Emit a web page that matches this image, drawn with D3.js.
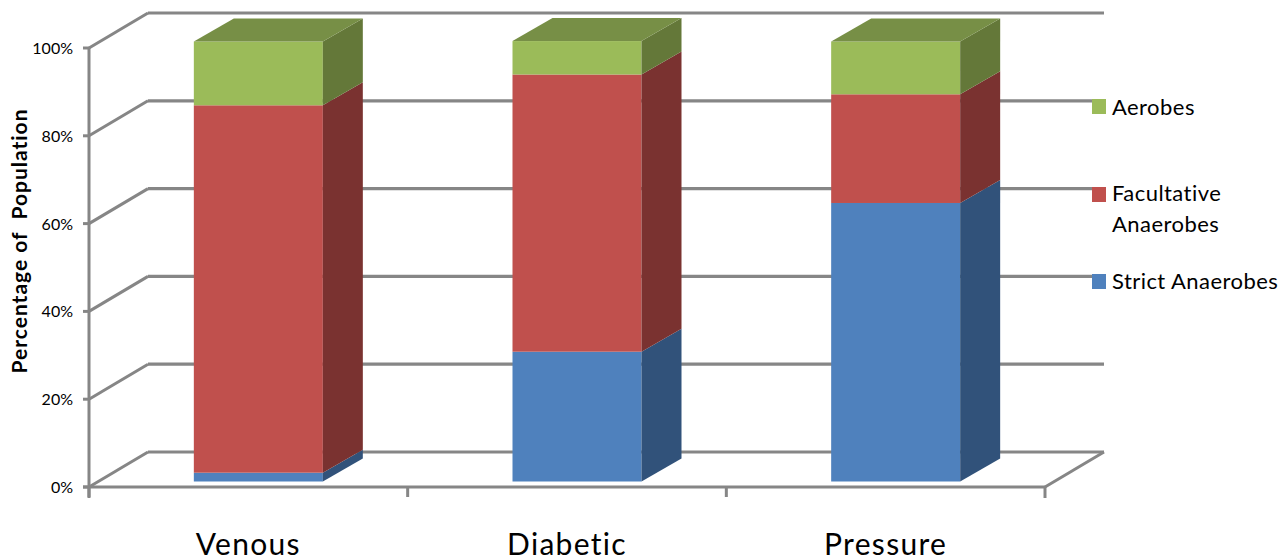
<!DOCTYPE html>
<html><head><meta charset="utf-8">
<style>html,body{margin:0;padding:0;background:#fff;overflow:hidden}svg{display:block}text{font-family:Lato,"Open Sans",sans-serif;fill:#000;white-space:pre}</style>
<script src="https://d3js.org/d3.v7.min.js"></script></head>
<body><svg id="c" width="1281" height="559"></svg>
<script>
const categories = ["Venous","Diabetic","Pressure"];
const strictAnaerobes = [2, 29.5, 63.3];
const facultativeAnaerobes = [83.5, 63, 24.7];
const aerobes = [14.5, 7.6, 12];
const yTicks = [0,20,40,60,80,100];
const seriesNames = ["Strict Anaerobes","Facultative Anaerobes","Aerobes"];
const seriesValues = [strictAnaerobes, facultativeAnaerobes, aerobes];
const front = ["#4F81BD","#C0504D","#9BBB59"];
const side = ["#31527A","#7A3230","#647839"];
const topFace = ["#3C6497","#9A403E","#778F46"];

const svg = d3.select("#c");
const x = d3.scaleBand().domain(categories).range([89,1045]);
const y = d3.scaleLinear().domain([0,100]).range([487,48]);
const yBar = d3.scaleLinear().domain([0,100]).range([481.5,41.5]);
const wall = {dx:59, dy:-35}, depth = {dx:40, dy:-23}, barW = 129, barShift = 10;
const grey = "#868686";
const line = (a,b,c,d,w=3)=>svg.append("line").attr("x1",a).attr("y1",b).attr("x2",c).attr("y2",d).attr("stroke",grey).attr("stroke-width",w);

// back wall gridlines, side-wall diagonals, y ticks and labels
yTicks.forEach(t=>{
  const py = y(t);
  line(89+wall.dx, py+wall.dy, 1045+wall.dx, py+wall.dy, 3.2);
  line(89, py, 89+wall.dx, py+wall.dy, 3);
  line(83, py, 89, py, 3);
  svg.append("text").attr("x",73).attr("y",py+6).attr("text-anchor","end").attr("font-size",16).text(t+"%");
});
// axes and floor
line(89, y(100), 89, 498, 3);
line(83, y(0), 1045, y(0), 3);
line(1045, y(0), 1045+wall.dx, y(0)+wall.dy, 3);
x.domain().forEach(c=>line(x(c), y(0), x(c), 497, 3));
line(1045, y(0), 1045, 498, 3);

// stacked bars
const stack = d3.stack().keys([0,1,2]).value((d,k)=>seriesValues[k][d])(categories.map((_,i)=>i));
const poly = pts => pts.map(p=>p.join(",")).join(" ");
categories.forEach((c,i)=>{
  const x0 = x(c)+x.bandwidth()/2+barShift-barW/2, x1 = x0+barW;
  stack.forEach((s,k)=>{
    const yb = yBar(s[i][0]), yt = yBar(s[i][1]);
    svg.append("rect").attr("x",x0).attr("y",yt).attr("width",barW).attr("height",yb-yt).attr("fill",front[k]);
    svg.append("polygon").attr("fill",side[k]).attr("points",poly([[x1,yb],[x1+depth.dx,yb+depth.dy],[x1+depth.dx,yt+depth.dy],[x1,yt]]));
    if(k===2) svg.append("polygon").attr("fill",topFace[k]).attr("points",poly([[x0,yt],[x0+depth.dx,yt+depth.dy],[x1+depth.dx,yt+depth.dy],[x1,yt]]));
  });
  svg.append("text").attr("x",x(c)+x.bandwidth()/2).attr("y",554.5).attr("text-anchor","middle").attr("font-size",30).attr("letter-spacing",1.3).text(c);
});

// y title
svg.append("text").attr("transform","translate(27,241) rotate(-90)").attr("text-anchor","middle")
  .attr("font-size",21).attr("font-weight","bold").attr("letter-spacing",1).text("Percentage of  Population");

// legend
const legend = [
  {i:2,y:99,lines:["Aerobes"],ty:115},
  {i:1,y:187,lines:["Facultative","Anaerobes"],ty:201},
  {i:0,y:274,lines:["Strict Anaerobes"],ty:289}
];
legend.forEach(l=>{
  svg.append("rect").attr("x",1092).attr("y",l.y).attr("width",14).attr("height",15).attr("fill",front[l.i]);
  l.lines.forEach((t,j)=>svg.append("text").attr("x",1112).attr("y",l.ty+j*30.5).attr("font-size",22).attr("letter-spacing",0.45).text(t));
});
</script></body></html>
